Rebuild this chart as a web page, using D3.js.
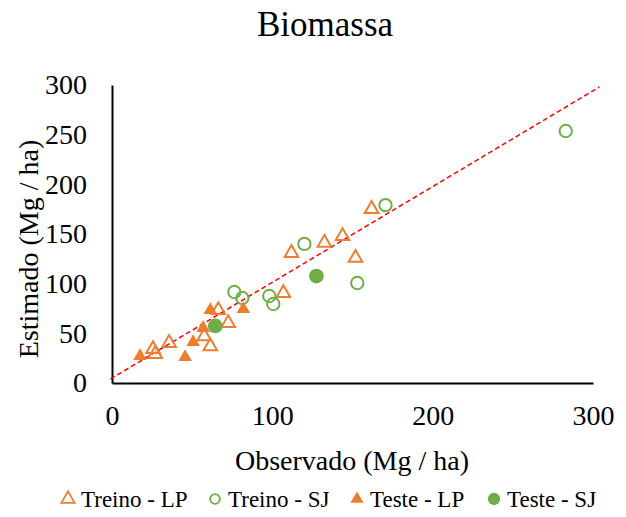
<!DOCTYPE html>
<html>
<head>
<meta charset="utf-8">
<script src="https://cdn.jsdelivr.net/npm/d3@7"></script>
<style>
  body { margin: 0; background: #fff; }
  svg text { font-family: "Liberation Serif", "Times New Roman", serif; fill: #000; }
</style>
</head>
<body>
<div id="chart"></div>
<script>
const treinoLP_x = [25.6, 26.9, 35.6, 57.5, 61.3, 66.3, 72.5, 106.9, 111.9, 132.5, 143.8, 151.9, 161.9];
const treinoLP_y = [34.2, 29.2, 40.3, 47.0, 37.0, 73.5, 60.4, 90.6, 130.9, 141.0, 148.0, 125.9, 175.2];
const treinoSJ_x = [76.3, 81.3, 98.1, 100.6, 120.0, 153.0, 170.6, 283.0];
const treinoSJ_y = [91.6, 85.6, 87.6, 79.5, 140.0, 100.7, 179.0, 253.7];
const testeLP_x = [17.5, 45.6, 50.6, 56.9, 61.3, 81.9];
const testeLP_y = [27.2, 26.2, 41.3, 55.4, 73.5, 74.5];
const testeSJ_x = [64.4, 127.5];
const testeSJ_y = [57.4, 107.7];
// dashed trend line end points
const trendX = [-1, 304];
const trendY = [4, 298];

const xTicks = [0, 100, 200, 300];
const yTicks = [0, 50, 100, 150, 200, 250, 300];

const W = 626, H = 517;
const margin = { top: 85, right: 33, bottom: 134, left: 112 };
const width = W - margin.left - margin.right;
const height = H - margin.top - margin.bottom;

const orange = '#ED7D31', green = '#70AD47';

const svg = d3.select('#chart').append('svg').attr('width', W).attr('height', H);

const x = d3.scaleLinear().domain([0, 300]).range([0, width]);
const y = d3.scaleLinear().domain([0, 300]).range([height, 0]);

const g = svg.append('g').attr('transform', 'translate(' + margin.left + ',' + margin.top + ')');

// title
svg.append('text')
  .attr('x', 325).attr('y', 36)
  .attr('text-anchor', 'middle')
  .style('font-size', '35px')
  .text('Biomassa');

/* Axes */
const xAxis = g.append('g')
  .attr('transform', 'translate(0,' + height + ')')
  .call(d3.axisBottom(x).tickValues(xTicks).tickSize(0).tickPadding(22));
const yAxis = g.append('g')
  .call(d3.axisLeft(y).tickValues(yTicks).tickSize(0).tickPadding(25));

[xAxis, yAxis].forEach(a => {
  a.select('.domain').attr('stroke', '#000').attr('stroke-width', 2);
  a.selectAll('text').style('font-family', '"Liberation Serif", serif').style('font-size', '28px').attr('fill', '#000');
});

// axis titles
svg.append('text')
  .attr('x', 352).attr('y', 470)
  .attr('text-anchor', 'middle')
  .style('font-size', '28px')
  .text('Observado (Mg / ha)');

svg.append('text')
  .attr('transform', 'translate(38,249) rotate(-90)')
  .attr('text-anchor', 'middle')
  .style('font-size', '28px')
  .text('Estimado (Mg / ha)');

// trend line
g.append('path')
  .datum(trendX.map((v, i) => [v, trendY[i]]))
  .attr('fill', 'none')
  .attr('stroke', '#FF0000')
  .attr('stroke-width', 1.5)
  .attr('stroke-dasharray', '5,3')
  .attr('d', d3.line().x(d => x(d[0])).y(d => y(d[1])));

const triangle = d3.symbol().type(d3.symbolTriangle).size(80);

function drawSeries(xs, ys, shape, filled, color) {
  const pts = xs.map((v, i) => ({ x: v, y: ys[i] }));
  g.append('g').selectAll('path')
    .data(pts)
    .enter().append('path')
    .attr('transform', d => 'translate(' + x(d.x) + ',' + y(d.y) + ')')
    .attr('d', shape === 'tri' ? triangle : d3.symbol().type(d3.symbolCircle).size(filled ? 170 : 120))
    .attr('fill', filled ? color : 'none')
    .attr('stroke', color)
    .attr('stroke-width', filled ? 0 : 2);
}

drawSeries(treinoLP_x, treinoLP_y, 'tri', false, orange);
drawSeries(treinoSJ_x, treinoSJ_y, 'circle', false, green);
drawSeries(testeLP_x, testeLP_y, 'tri', true, orange);
drawSeries(testeSJ_x, testeSJ_y, 'circle', true, green);

/* Legend */
const legends = [
  { label: 'Treino - LP', shape: 'tri', filled: false, color: orange, pos: 68 },
  { label: 'Treino - SJ', shape: 'circle', filled: false, color: green, pos: 215 },
  { label: 'Teste - LP', shape: 'tri', filled: true, color: orange, pos: 357 },
  { label: 'Teste - SJ', shape: 'circle', filled: true, color: green, pos: 494 }
];
const ly = 507;
legends.forEach(l => {
  const sym = l.shape === 'tri'
    ? d3.symbol().type(d3.symbolTriangle).size(75)
    : d3.symbol().type(d3.symbolCircle).size(l.filled ? 120 : 75);
  svg.append('path')
    .attr('transform', 'translate(' + l.pos + ',' + (ly - 8) + ')')
    .attr('d', sym)
    .attr('fill', l.filled ? l.color : 'none')
    .attr('stroke', l.color)
    .attr('stroke-width', l.filled ? 0 : 1.8);
  svg.append('text')
    .attr('x', l.pos + 13).attr('y', ly)
    .style('font-size', '23px')
    .text(l.label);
});
</script>
</body>
</html>
